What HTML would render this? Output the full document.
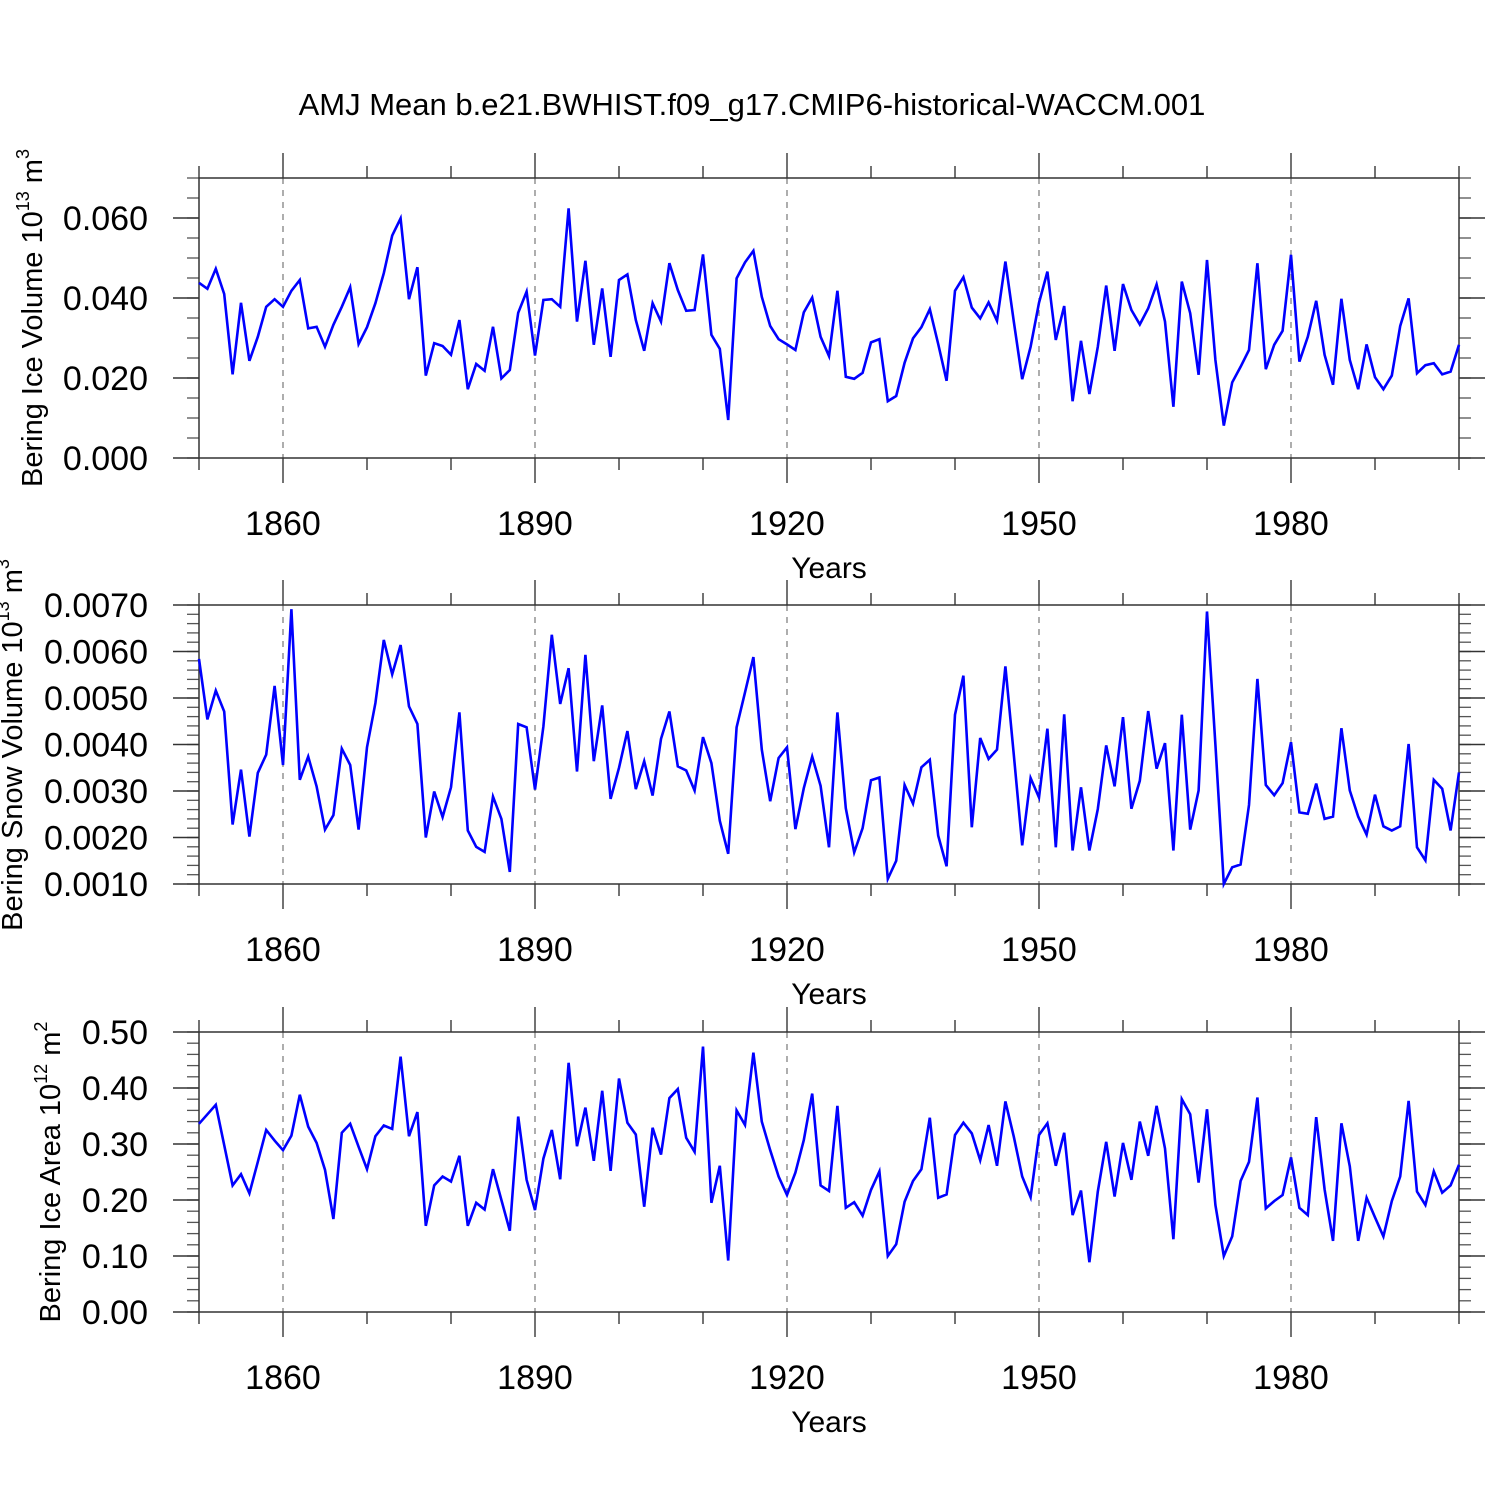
<!DOCTYPE html>
<html><head><meta charset="utf-8">
<style>
html,body{margin:0;padding:0;background:#fff;}
svg{display:block;font-family:"Liberation Sans",Arial,sans-serif;}
</style></head>
<body>
<svg id="chart" width="1500" height="1500" viewBox="0 0 1500 1500" xmlns="http://www.w3.org/2000/svg">
<rect x="0" y="0" width="1500" height="1500" fill="#fff"/>
<text x="752" y="115" font-size="31" text-anchor="middle">AMJ Mean b.e21.BWHIST.f09_g17.CMIP6-historical-WACCM.001</text>
</svg>
<script>
const startYear = 1850;
const iceVolume = [0.0438,0.0423,0.0473,0.041,0.0209,0.0388,0.0243,0.0303,0.0378,0.0397,
0.0378,0.0418,0.0445,0.0324,0.0328,0.0278,0.0333,0.0378,0.0427,0.0285,
0.0327,0.0387,0.0462,0.0556,0.0599,0.0397,0.0477,0.0206,0.0287,0.028,
0.0258,0.0345,0.0172,0.0235,0.0218,0.0328,0.0199,0.022,0.0363,0.0416,
0.0256,0.0395,0.0397,0.0378,0.0624,0.0341,0.0493,0.0283,0.0424,0.0253,
0.0445,0.0459,0.0345,0.0268,0.0387,0.0341,0.0487,0.042,0.0368,0.037,
0.0509,0.0308,0.0273,0.0095,0.0449,0.0489,0.0518,0.0403,0.033,0.0297,
0.0284,0.027,0.0364,0.0401,0.0303,0.0255,0.0418,0.0203,0.0198,0.0213,
0.0289,0.0297,0.0142,0.0155,0.0238,0.0299,0.0327,0.0372,0.0285,0.0193,
0.0418,0.0452,0.0376,0.0349,0.0389,0.0343,0.0491,0.0341,0.0197,0.0278,
0.0388,0.0466,0.0295,0.038,0.0142,0.0293,0.016,0.0278,0.0431,0.0268,
0.0435,0.037,0.0334,0.0374,0.0434,0.0341,0.0128,0.0441,0.0362,0.0208,
0.0495,0.0245,0.0081,0.0189,0.0228,0.027,0.0487,0.0222,0.0283,0.0318,
0.0508,0.0241,0.0303,0.0393,0.0258,0.0183,0.0398,0.0245,0.0172,0.0284,
0.0202,0.0172,0.0206,0.033,0.0399,0.0212,0.0232,0.0237,0.0209,0.0216,0.0283];
const snowVolume = [0.00584,0.00454,0.00516,0.00471,0.00228,0.00346,0.00202,0.00339,0.00378,0.00526,
0.00356,0.00691,0.00324,0.00374,0.0031,0.00217,0.00248,0.00391,0.00356,0.00217,
0.00394,0.00489,0.00625,0.00551,0.00614,0.00482,0.00444,0.002,0.00299,0.00244,
0.00308,0.00469,0.00215,0.0018,0.00169,0.00288,0.0024,0.00126,0.00444,0.00437,
0.00303,0.00439,0.00636,0.00487,0.00564,0.00342,0.00593,0.00364,0.00484,0.00283,
0.0035,0.00429,0.00304,0.00364,0.0029,0.00412,0.00471,0.00353,0.00344,0.00301,
0.00416,0.0036,0.00236,0.00165,0.00437,0.00512,0.00588,0.00389,0.00278,0.00371,
0.00394,0.00218,0.00306,0.00374,0.00311,0.00179,0.00469,0.00263,0.00168,0.0022,
0.00323,0.00329,0.00111,0.0015,0.00313,0.00273,0.00351,0.00367,0.00204,0.00138,
0.00464,0.00548,0.00222,0.00414,0.00369,0.00389,0.00568,0.00378,0.00183,0.00328,
0.00286,0.00434,0.00179,0.00465,0.00172,0.00308,0.00172,0.00261,0.00398,0.0031,
0.00459,0.00262,0.00322,0.00472,0.00348,0.00403,0.00172,0.00464,0.00217,0.00301,
0.00686,0.004,0.001,0.00136,0.00142,0.0027,0.00541,0.00313,0.00291,0.00317,
0.00405,0.00254,0.00251,0.00316,0.0024,0.00245,0.00435,0.00301,0.00245,0.00206,
0.00292,0.00224,0.00215,0.00224,0.00401,0.00179,0.00151,0.00324,0.00305,0.00215,0.0034];
const iceArea = [0.336,0.353,0.37,0.298,0.226,0.246,0.212,0.268,0.325,0.306,
0.289,0.315,0.388,0.331,0.302,0.254,0.166,0.32,0.336,0.295,
0.255,0.314,0.333,0.327,0.456,0.314,0.357,0.154,0.226,0.242,
0.233,0.279,0.154,0.195,0.183,0.255,0.2,0.145,0.349,0.236,
0.182,0.274,0.325,0.237,0.445,0.296,0.365,0.27,0.395,0.252,
0.417,0.338,0.317,0.188,0.329,0.281,0.382,0.398,0.311,0.286,
0.474,0.195,0.261,0.092,0.36,0.334,0.463,0.34,0.289,0.242,
0.209,0.249,0.307,0.39,0.226,0.216,0.368,0.186,0.196,0.172,
0.218,0.251,0.1,0.121,0.197,0.234,0.255,0.347,0.204,0.21,
0.316,0.338,0.319,0.271,0.334,0.261,0.376,0.313,0.242,0.205,
0.316,0.337,0.261,0.32,0.173,0.217,0.089,0.215,0.304,0.206,
0.302,0.236,0.34,0.279,0.368,0.292,0.13,0.38,0.353,0.231,
0.362,0.191,0.1,0.135,0.234,0.268,0.383,0.185,0.198,0.209,
0.276,0.186,0.173,0.348,0.219,0.127,0.337,0.26,0.127,0.204,
0.169,0.135,0.198,0.242,0.377,0.215,0.191,0.251,0.213,0.226,0.263];
const xTickYears = [1860,1890,1920,1950,1980];
const ticks1 = ["0.000","0.020","0.040","0.060"];
const ticks2 = ["0.0010","0.0020","0.0030","0.0040","0.0050","0.0060","0.0070"];
const ticks3 = ["0.00","0.10","0.20","0.30","0.40","0.50"];

const NS = "http://www.w3.org/2000/svg";
const svg = document.getElementById('chart');
function mk(tag, attrs, parent){
  const e = document.createElementNS(NS, tag);
  for (const k in attrs) e.setAttribute(k, attrs[k]);
  (parent||svg).appendChild(e);
  return e;
}
const X0 = 199, X1 = 1459, YEAR0 = 1850, YEAR1 = 2000;
function xScale(yr){ return X0 + (yr - YEAR0) * (X1 - X0) / (YEAR1 - YEAR0); }

function panel(cfg){
  const g = mk('g', {});
  
  
  const yS = v => cfg.bottom - (v - cfg.ymin) * (cfg.bottom - cfg.tickTop) / (cfg.tickMax - cfg.ymin);
  const top = cfg.top;
  xTickYears.forEach(yr => {
    const l = mk('line', {x1:xScale(yr), x2:xScale(yr), y1:top, y2:cfg.bottom, stroke:'#777', 'stroke-width':1.2, 'stroke-dasharray':'6,6'}, g);
    
    
  });
  for (let yr = YEAR0; yr <= YEAR1; yr += 10) {
    const major = xTickYears.includes(yr);
    const len = major ? 25 : 12;
    const x = xScale(yr);
    mk('line', {x1:x, x2:x, y1:top-len, y2:top, stroke:'#444', 'stroke-width':1.5}, g);
    mk('line', {x1:x, x2:x, y1:cfg.bottom, y2:cfg.bottom+len, stroke:'#444', 'stroke-width':1.5}, g);
  }
  for (let v = cfg.ymin; v <= cfg.ymaxFrame + 1e-9; v += cfg.minor) {
    const y = yS(v);
    mk('line', {x1:X0-12, x2:X0, y1:y, y2:y, stroke:'#555', 'stroke-width':1.3}, g);
    mk('line', {x1:X1, x2:X1+12, y1:y, y2:y, stroke:'#555', 'stroke-width':1.3}, g);
  }
  cfg.ticks.forEach(t => {
    const y = yS(parseFloat(t));
    mk('line', {x1:X0-26, x2:X0, y1:y, y2:y, stroke:'#333', 'stroke-width':1.5}, g);
    mk('line', {x1:X1, x2:X1+26, y1:y, y2:y, stroke:'#333', 'stroke-width':1.5}, g);
    const tx = mk('text', {x:148, y:y+12, 'font-size':34, 'text-anchor':'end'}, g);
    tx.textContent = t;
    
    
  });
  const fr = mk('rect', {x:X0, y:top, width:X1-X0, height:cfg.bottom-top, fill:'none', stroke:'#333', 'stroke-width':1.5}, g);
  
  
  xTickYears.forEach(yr => {
    const tx = mk('text', {x:xScale(yr), y:cfg.bottom+77, 'font-size':34, 'text-anchor':'middle'}, g);
    tx.textContent = yr;
    
    
  });
  const xt = mk('text', {x:829, y:cfg.bottom+120, 'font-size':30, 'text-anchor':'middle'}, g);
  xt.textContent = 'Years';
  
  
  const yt = mk('text', {x:0, y:0, 'font-size':29, 'text-anchor':'middle', transform:`translate(${cfg.titleX},${cfg.titleY}) rotate(-90)`}, g);
  
  
  yt.innerHTML = cfg.title + ` 10<tspan dy="-13" font-size="18">${cfg.exp}</tspan><tspan dy="13"> m</tspan><tspan dy="-13" font-size="18">${cfg.unitExp}</tspan>`;
  const pts = cfg.data.map((v,i) => xScale(startYear+i).toFixed(1)+','+yS(v).toFixed(1)).join(' ');
  const pl = mk('polyline', {points:pts, fill:'none', stroke:'#0000ff', 'stroke-width':2.6, 'stroke-linejoin':'miter'}, g);
  
  
}

panel({name:'ice-volume-panel', data:iceVolume, top:178, bottom:458, ymin:0, tickMax:0.06, tickTop:218, ymaxFrame:0.07, minor:0.005, ticks:ticks1, title:'Bering Ice Volume', exp:'13', unitExp:'3', titleX:42, titleY:318});
panel({name:'snow-volume-panel', data:snowVolume, top:605, bottom:884, ymin:0.001, tickMax:0.007, tickTop:605, ymaxFrame:0.007, minor:0.0002, ticks:ticks2, title:'Bering Snow Volume', exp:'13', unitExp:'3', titleX:22, titleY:745});
panel({name:'ice-area-panel', data:iceArea, top:1032, bottom:1312, ymin:0, tickMax:0.5, tickTop:1032, ymaxFrame:0.5, minor:0.02, ticks:ticks3, title:'Bering Ice Area', exp:'12', unitExp:'2', titleX:60, titleY:1172});
</script>
</body></html>
